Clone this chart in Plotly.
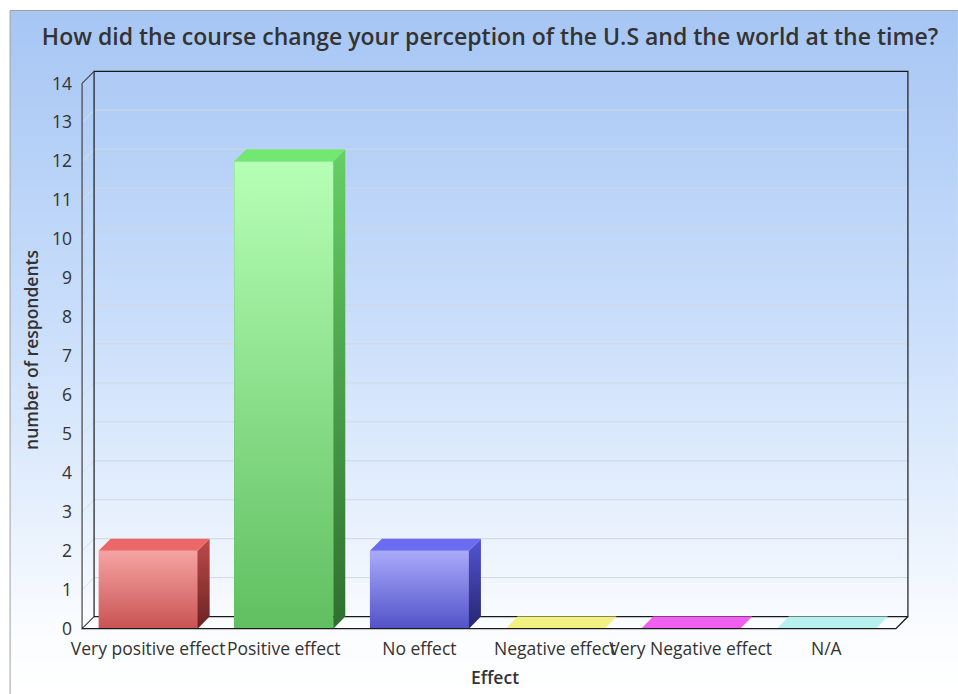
import base64, struct, zlib
import plotly.graph_objects as go

# ---------------- data ----------------
categories = ["Very positive effect", "Positive effect", "No effect",
              "Negative effect", "Very Negative effect", "N/A"]
respondents = [2, 12, 2, 0, 0, 0]
y_ticks = list(range(0, 15))
title_text = "How did the course change your perception of the U.S and the world at the time?"
x_title = "Effect"
y_title = "number of respondents"

# ---------------- style ----------------
front_top = ["#f6a4a4", "#b6ffb6", "#aaaafb", "#f6f690", "#f470f4", "#c0f4f4"]
front_bot = ["#c95353", "#60bf60", "#5252c8", "#e8e870", "#e050e0", "#a8eaea"]
top_col = ["#ec6767", "#72e872", "#6c6cf0", "#f2f282", "#f060f0", "#b8f0f0"]
side_top = ["#c04a4a", "#66d066", "#5454d4", "#d8d860", "#c040c0", "#90d8d8"]
side_bot = ["#6a2222", "#2f6e2f", "#26266e", "#a0a040", "#802080", "#60a0a0"]

DX, DY = 0.0885, 0.31          # 3-D depth offset in data units
BAR_W, BAR_SHIFT = 0.73, -0.013
SX, SY = 135.67, 39.0          # px per data unit
X0PX, Y0PX = 82, 629           # pixel position of data origin (front)
XMIN, XMAX = -0.03, 6 + DX + 0.03
YMIN, YMAX = -0.06, 14 + DY + 0.06
W_PX, H_PX = 958, 694
FONT = "Open Sans"
TXT = "#333333"
TICK_SIZE = 17.5

L = X0PX + XMIN * SX
R = W_PX - (X0PX + XMAX * SX)
B = H_PX - (Y0PX - YMIN * SY)
T = Y0PX - YMAX * SY
PW, PH = W_PX - L - R, H_PX - T - B


def png_gradient(stops, n=256):
    def hex2rgb(h):
        h = h.lstrip("#")
        return [int(h[k:k + 2], 16) for k in (0, 2, 4)]
    rows = b""
    for j in range(n):
        f = j / (n - 1)
        for k in range(len(stops) - 1):
            if stops[k][0] <= f <= stops[k + 1][0]:
                a, b = stops[k], stops[k + 1]
                t = (f - a[0]) / (b[0] - a[0])
                ca, cb = hex2rgb(a[1]), hex2rgb(b[1])
                rgb = [round(ca[m] + (cb[m] - ca[m]) * t) for m in range(3)]
                break
        rows += b"\x00" + bytes(rgb)

    def chunk(tag, data):
        return (struct.pack(">I", len(data)) + tag + data +
                struct.pack(">I", zlib.crc32(tag + data) & 0xffffffff))
    png = b"\x89PNG\r\n\x1a\n"
    png += chunk(b"IHDR", struct.pack(">IIBBBBB", 1, n, 8, 2, 0, 0, 0))
    png += chunk(b"IDAT", zlib.compress(rows))
    png += chunk(b"IEND", b"")
    return "data:image/png;base64," + base64.b64encode(png).decode()


bg = png_gradient([(0.0, "#a7c6f4"), (0.45, "#c9defb"), (0.75, "#e8f1fd"),
                   (0.9, "#fafcff"), (1.0, "#ffffff")])

centers = [i + 0.5 + BAR_SHIFT for i in range(len(categories))]

fig = go.Figure()

# front faces (bars)
fig.add_trace(go.Bar(
    x=centers, y=respondents, width=BAR_W,
    marker=dict(color=[front_bot[i] for i in range(len(categories))], line=dict(width=0)),
    showlegend=False, hoverinfo="x+y"))

for i, v in enumerate(respondents):
    c = centers[i]
    x0, x1 = c - BAR_W / 2, c + BAR_W / 2
    if v > 0:
        fig.add_trace(go.Scatter(
            x=[x0, x1, x1, x0, x0], y=[0, 0, v, v, 0], mode="lines",
            line=dict(width=0), fill="toself",
            fillgradient=dict(type="vertical",
                              colorscale=[[0, front_bot[i]], [1, front_top[i]]]),
            hoverinfo="skip", showlegend=False))
        fig.add_trace(go.Scatter(
            x=[x1, x1 + DX, x1 + DX, x1, x1], y=[0, DY, v + DY, v, 0], mode="lines",
            line=dict(width=0), fill="toself",
            fillgradient=dict(type="vertical",
                              colorscale=[[0, side_bot[i]], [1, side_top[i]]]),
            hoverinfo="skip", showlegend=False))
    fig.add_trace(go.Scatter(
        x=[x0, x1, x1 + DX, x0 + DX, x0], y=[v, v, v + DY, v + DY, v], mode="lines",
        line=dict(width=0), fill="toself", fillcolor=top_col[i],
        hoverinfo="skip", showlegend=False))

shapes = []
# back-wall grid lines and side-wall grid lines
for v in y_ticks[1:-1]:
    shapes.append(dict(type="line", xref="x", yref="y", x0=DX, x1=6 + DX,
                       y0=v + DY, y1=v + DY, line=dict(color="#d0d7e2", width=1),
                       layer="below"))
    shapes.append(dict(type="line", xref="x", yref="y", x0=0, x1=DX,
                       y0=v, y1=v + DY, line=dict(color="#d8dee8", width=1),
                       layer="below"))
top = y_ticks[-1]
# back wall frame
shapes.append(dict(type="rect", xref="x", yref="y", x0=DX, x1=6 + DX, y0=DY, y1=top + DY,
                   line=dict(color="#1a1a1a", width=1.2), layer="below"))
# left wall
shapes.append(dict(type="path", xref="x", yref="y",
                   path=f"M {DX},{top + DY} L 0,{top} L 0,0 L {DX},{DY}",
                   line=dict(color="#444444", width=1.2), layer="below"))
# front floor edge
shapes.append(dict(type="path", xref="x", yref="y",
                   path=f"M 0,0 L 6,0 L {6 + DX},{DY}",
                   line=dict(color="#1a1a1a", width=1.4), layer="above"))
# outer border (left and top edges visible)
shapes.append(dict(type="rect", xref="paper", yref="paper",
                   x0=(10 - L) / PW, x1=(W_PX + 40 - L) / PW,
                   y0=-(B + 40) / PH, y1=1 + (T - 10) / PH,
                   line=dict(color="#a0a0a0", width=1), layer="below"))

fig.update_layout(
    width=W_PX, height=H_PX, autosize=False,
    margin=dict(l=L, r=R, t=T, b=B, pad=0, autoexpand=False),
    paper_bgcolor="white", plot_bgcolor="rgba(0,0,0,0)",
    font=dict(family=FONT, size=TICK_SIZE, color=TXT),
    title=dict(text=title_text, x=490 / W_PX, xanchor="center", xref="container",
               y=1 - 37 / H_PX, yanchor="middle", yref="container",
               font=dict(family=FONT, size=23, color=TXT, weight=600)),
    images=[dict(source=bg, xref="paper", yref="paper",
                 x=(10 - L) / PW, y=1 + (T - 10) / PH,
                 sizex=(W_PX - 10) / PW, sizey=(H_PX - 10) / PH,
                 xanchor="left", yanchor="top", sizing="stretch", layer="below")],
    shapes=shapes,
    bargap=0,
    showlegend=False,
    xaxis=dict(range=[XMIN, XMAX], tickvals=centers, ticktext=categories,
               tickangle=0, showgrid=False, zeroline=False, showline=False,
               ticks="", ticklabelstandoff=5, fixedrange=True, automargin=False,
               tickfont=dict(family=FONT, size=TICK_SIZE, color=TXT),
               title=dict(text=x_title, standoff=13,
                          font=dict(family=FONT, size=TICK_SIZE, color=TXT, weight=600))),
    yaxis=dict(range=[YMIN, YMAX], tickvals=y_ticks, showgrid=False, zeroline=False,
               showline=False, ticks="", ticklabelstandoff=5, fixedrange=True,
               automargin=False,
               tickfont=dict(family=FONT, size=TICK_SIZE, color=TXT),
               title=dict(text=y_title, standoff=8,
                          font=dict(family=FONT, size=TICK_SIZE, color=TXT, weight=600))),
)

fig.write_html("out.html",
               config={"displayModeBar": False},
               post_script="document.body.style.margin='0px';"
                           "document.body.style.overflow='hidden';")
